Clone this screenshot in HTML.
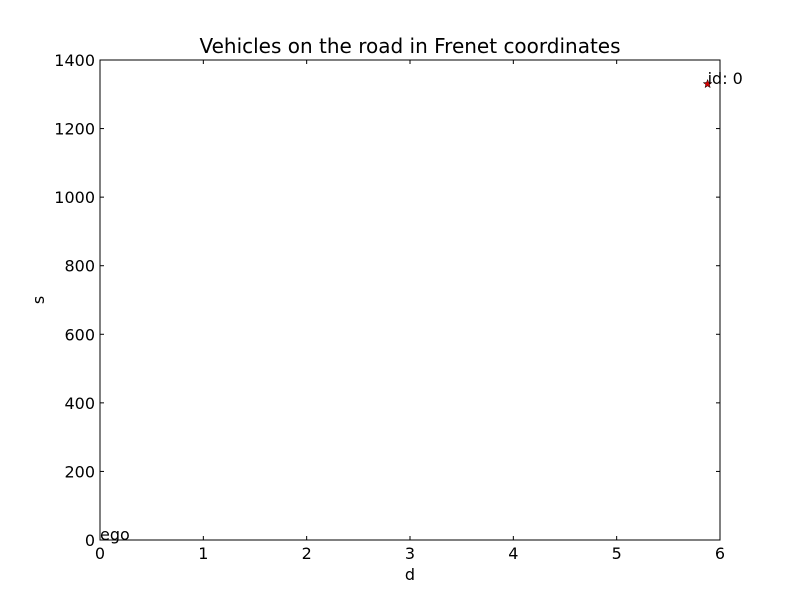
<!DOCTYPE html>
<html><head><meta charset="utf-8"><style>
body{margin:0;background:#fff;}
svg text{font-family:"DejaVu Sans","Liberation Sans",sans-serif;fill:#000;}
</style></head><body>
<svg width="800" height="600" xmlns="http://www.w3.org/2000/svg">
<rect width="800" height="600" fill="#fff"/>
<g id="ticks"></g>
<g id="marks"></g>
<rect x="100" y="60" width="620" height="480" fill="none" stroke="#000" stroke-width="1"/>
<text x="410" y="53" font-size="20" text-anchor="middle">Vehicles on the road in Frenet coordinates</text>
<text x="410" y="580" font-size="16" text-anchor="middle">d</text>
<text x="44" y="300" font-size="16" text-anchor="middle" transform="rotate(-90 44 300)">s</text>
</svg>
<script>
const xTicks=[0,1,2,3,4,5,6];
const yTicks=[0,200,400,600,800,1000,1200,1400];
const vehD=[0,5.88];
const vehS=[0,1330];
const vehLabels=["ego","id: 0"];
const vehMarker=[false,true];
const X0=100,X1=720,Y0=540,Y1=60;
const xs=d=>X0+(d-0)/6*(X1-X0);
const ys=s=>Y0-(s-0)/1400*(Y0-Y1);
const NS="http://www.w3.org/2000/svg";
const tg=document.getElementById('ticks'),mg=document.getElementById('marks');
function mk(tag,a,p){const e=document.createElementNS(NS,tag);for(const k in a)e.setAttribute(k,a[k]);p.appendChild(e);return e;}
xTicks.forEach(v=>{const x=xs(v);
 const t1=mk('line',{x1:x,x2:x,y1:Y0,y2:Y0-4,stroke:'#000'},tg);
 
 
 mk('line',{x1:x,x2:x,y1:Y1,y2:Y1+4,stroke:'#000'},tg);
 const l=mk('text',{x:x,y:Y0+19,'font-size':16,'text-anchor':'middle'},tg);l.textContent=v;
 
 
});
yTicks.forEach(v=>{const y=ys(v);
 const t1=mk('line',{x1:X0,x2:X0+4,y1:y,y2:y,stroke:'#000'},tg);
 
 
 mk('line',{x1:X1,x2:X1-4,y1:y,y2:y,stroke:'#000'},tg);
 const l=mk('text',{x:X0-5,y:y+6,'font-size':16,'text-anchor':'end'},tg);l.textContent=v;
 
 
});
vehD.forEach((d,i)=>{const x=xs(d),y=ys(vehS[i]);
 if(vehMarker[i]){
  const pts=[];for(let k=0;k<10;k++){const r=k%2?1.9:4.5,a=-Math.PI/2+k*Math.PI/5;pts.push((x+r*Math.cos(a)).toFixed(1)+','+(y+r*Math.sin(a)).toFixed(1));}
  const s=mk('polygon',{points:pts.join(' '),fill:'#d00000',stroke:'#000','stroke-width':0.5},mg);
  
  
 }
 const t=mk('text',{x:x,y:y,'font-size':16},mg);t.textContent=vehLabels[i];
 
 
});
</script>
</body></html>
